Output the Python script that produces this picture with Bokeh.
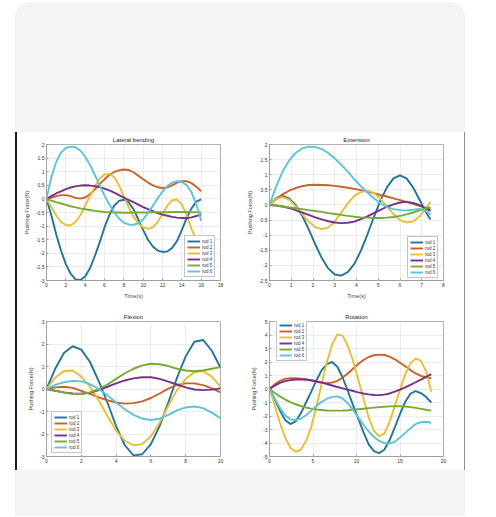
from bokeh.plotting import figure
from bokeh.models import Range1d, FixedTicker, PrintfTickFormatter, Div
from bokeh.layouts import row, column
from bokeh.embed import file_html
from bokeh.resources import INLINE

ROD_LABELS = ["rod 1", "rod 2", "rod 3", "rod 4", "rod 5", "rod 6"]
ROD_COLORS = ["#22749a", "#cc6128", "#e6bf35", "#74328a", "#7aaa36", "#5ac4dc"]

# ---------------- Lateral bending ----------------
LB_T = [0, 0.5, 1, 1.5, 2, 2.5, 3, 3.5, 4, 4.5, 5, 5.5, 6, 6.5, 7, 7.5, 8,
        8.5, 9, 9.5, 10, 10.5, 11, 11.5, 12, 12.5, 13, 13.5, 14, 14.5, 15, 15.5, 16]
LB_ROD1 = [0, -0.6, -1.3, -1.9, -2.4, -2.75, -2.96, -2.98, -2.85, -2.55, -2.1, -1.6, -1.05,
           -0.6, -0.25, -0.07, -0.03, -0.12, -0.38, -0.75, -1.15, -1.5, -1.75, -1.9, -1.95,
           -1.93, -1.8, -1.55, -1.15, -0.7, -0.35, -0.1, -0.02]
LB_ROD2 = [0, 0.05, 0.1, 0.14, 0.14, 0.1, 0.04, 0.01, 0.05, 0.17, 0.35, 0.55, 0.72, 0.88,
           0.99, 1.05, 1.08, 1.06, 0.98, 0.85, 0.72, 0.6, 0.5, 0.43, 0.4, 0.42, 0.5, 0.6,
           0.65, 0.65, 0.58, 0.45, 0.28]
LB_ROD3 = [0, -0.3, -0.6, -0.85, -0.96, -0.97, -0.85, -0.6, -0.25, 0.1, 0.45, 0.75, 0.9,
           0.92, 0.8, 0.5, 0.1, -0.3, -0.65, -0.9, -1.05, -1.1, -1.05, -0.85, -0.55, -0.25,
           -0.05, -0.02, -0.2, -0.6, -1.1, -1.5, -1.9]
LB_ROD4 = [0, 0.1, 0.2, 0.28, 0.36, 0.42, 0.46, 0.49, 0.5, 0.49, 0.47, 0.43, 0.38, 0.31,
           0.23, 0.14, 0.05, -0.04, -0.12, -0.21, -0.3, -0.38, -0.45, -0.52, -0.58, -0.62,
           -0.66, -0.69, -0.7, -0.7, -0.68, -0.63, -0.57]
LB_ROD5 = [0, -0.06, -0.12, -0.17, -0.22, -0.27, -0.31, -0.35, -0.38, -0.41, -0.44, -0.46,
           -0.48, -0.49, -0.5, -0.5, -0.51, -0.51, -0.5, -0.5, -0.5, -0.5, -0.49, -0.49,
           -0.49, -0.49, -0.48, -0.48, -0.48, -0.48, -0.49, -0.49, -0.5]
LB_ROD6 = [0, 0.8, 1.35, 1.7, 1.87, 1.92, 1.9, 1.78, 1.55, 1.25, 0.88, 0.5, 0.12, -0.2,
           -0.5, -0.72, -0.87, -0.94, -0.95, -0.9, -0.75, -0.52, -0.25, 0.02, 0.27, 0.47,
           0.6, 0.65, 0.63, 0.5, 0.25, -0.2, -0.8]
LB_XTICKS = [0, 2, 4, 6, 8, 10, 12, 14, 16, 18]
LB_YTICKS = [-3, -2.5, -2, -1.5, -1, -0.5, 0, 0.5, 1, 1.5, 2]

# ---------------- Extension ----------------
EX_T = [0, 0.3, 0.6, 0.9, 1.2, 1.5, 1.8, 2.1, 2.4, 2.7, 3.0, 3.3, 3.6, 3.9, 4.2, 4.5,
        4.8, 5.1, 5.4, 5.7, 6.0, 6.3, 6.6, 6.9, 7.2, 7.4]
EX_ROD1 = [0, 0.22, 0.3, 0.22, 0.0, -0.35, -0.8, -1.3, -1.75, -2.1, -2.3, -2.34, -2.22,
           -1.95, -1.52, -0.98, -0.4, 0.15, 0.58, 0.88, 0.98, 0.88, 0.58, 0.17, -0.25, -0.48]
EX_ROD2 = [0, 0.19, 0.35, 0.47, 0.56, 0.62, 0.66, 0.67, 0.66, 0.65, 0.63, 0.6, 0.57, 0.53,
           0.49, 0.44, 0.39, 0.33, 0.28, 0.22, 0.16, 0.1, 0.04, -0.03, -0.1, -0.15]
EX_ROD3 = [0, 0.2, 0.26, 0.18, -0.05, -0.3, -0.55, -0.73, -0.8, -0.75, -0.55, -0.25, 0.05,
           0.3, 0.43, 0.47, 0.4, 0.2, -0.05, -0.3, -0.5, -0.58, -0.55, -0.38, -0.1, 0.1]
EX_ROD4 = [0, -0.02, -0.05, -0.1, -0.17, -0.25, -0.33, -0.41, -0.48, -0.54, -0.58, -0.6,
           -0.59, -0.55, -0.47, -0.38, -0.27, -0.16, -0.06, 0.02, 0.08, 0.1, 0.07, -0.01,
           -0.12, -0.2]
EX_ROD5 = [0, -0.02, -0.05, -0.08, -0.11, -0.14, -0.17, -0.2, -0.23, -0.27, -0.3, -0.33,
           -0.36, -0.39, -0.41, -0.42, -0.43, -0.43, -0.42, -0.4, -0.36, -0.31, -0.25,
           -0.18, -0.11, -0.07]
EX_ROD6 = [0, 0.6, 1.1, 1.47, 1.72, 1.87, 1.93, 1.92, 1.85, 1.72, 1.54, 1.33, 1.1, 0.85,
           0.62, 0.41, 0.22, 0.05, -0.07, -0.14, -0.17, -0.18, -0.16, -0.13, -0.2, -0.32]
EX_XTICKS = [0, 1, 2, 3, 4, 5, 6, 7, 8]
EX_YTICKS = [-2.5, -2, -1.5, -1, -0.5, 0, 0.5, 1, 1.5, 2]

# ---------------- Flexion ----------------
FL_T = [0, 0.5, 1, 1.5, 2, 2.5, 3, 3.5, 4, 4.5, 5, 5.5, 6, 6.5, 7, 7.5, 8, 8.5, 9, 9.5, 10]
FL_ROD1 = [0, 0.9, 1.6, 1.9, 1.75, 1.2, 0.35, -0.6, -1.65, -2.5, -2.95, -2.9, -2.45, -1.65,
           -0.6, 0.5, 1.45, 2.1, 2.18, 1.7, 0.95]
FL_ROD2 = [0, 0.07, 0.1, 0.05, -0.08, -0.22, -0.37, -0.5, -0.6, -0.65, -0.63, -0.55, -0.4,
           -0.2, 0.02, 0.18, 0.25, 0.25, 0.17, 0.03, -0.15]
FL_ROD3 = [0, 0.5, 0.8, 0.82, 0.55, 0.1, -0.5, -1.2, -1.85, -2.3, -2.5, -2.45, -2.1, -1.5,
           -0.75, -0.05, 0.45, 0.75, 0.8, 0.55, 0.1]
FL_ROD4 = [0, -0.08, -0.15, -0.2, -0.21, -0.17, -0.05, 0.1, 0.25, 0.38, 0.47, 0.52, 0.52,
           0.45, 0.33, 0.2, 0.07, -0.02, -0.05, -0.03, 0.03]
FL_ROD5 = [0, -0.08, -0.16, -0.21, -0.22, -0.15, 0.0, 0.2, 0.45, 0.7, 0.9, 1.05, 1.12, 1.1,
           1.02, 0.9, 0.82, 0.79, 0.82, 0.9, 0.97]
FL_ROD6 = [0, 0.18, 0.3, 0.36, 0.34, 0.22, 0.0, -0.28, -0.6, -0.9, -1.15, -1.32, -1.38,
           -1.32, -1.15, -0.95, -0.82, -0.78, -0.85, -1.05, -1.3]
FL_XTICKS = [0, 2, 4, 6, 8, 10]
FL_YTICKS = [-3, -2, -1, 0, 1, 2, 3]

# ---------------- Rotation ----------------
RO_T = [0, 0.6, 1.2, 1.8, 2.4, 3.0, 3.6, 4.2, 4.8, 5.4, 6.0, 6.6, 7.2, 7.8, 8.4, 9.0, 9.6,
        10.2, 10.8, 11.4, 12.0, 12.6, 13.2, 13.8, 14.4, 15.0, 15.6, 16.2, 16.8, 17.4, 18.0, 18.6]
RO_ROD1 = [0, -0.75, -1.6, -2.3, -2.6, -2.4, -1.8, -1.0, -0.2, 0.65, 1.4, 1.85, 2.0, 1.65,
           0.85, -0.15, -1.2, -2.2, -3.2, -4.1, -4.6, -4.75, -4.5, -3.8, -2.85, -1.85,
           -0.95, -0.35, -0.15, -0.3, -0.6, -1.0]
RO_ROD2 = [0, 0.35, 0.6, 0.75, 0.8, 0.8, 0.76, 0.7, 0.62, 0.53, 0.46, 0.43, 0.47, 0.6,
           0.85, 1.15, 1.5, 1.85, 2.15, 2.37, 2.5, 2.55, 2.52, 2.4, 2.2, 1.95, 1.68, 1.4,
           1.15, 0.97, 0.86, 0.8]
RO_ROD3 = [0, -1.2, -2.5, -3.6, -4.35, -4.65, -4.5, -3.85, -2.8, -1.3, 0.4, 2.0, 3.3, 4.05,
           3.95, 3.2, 2.1, 0.7, -0.7, -2.1, -3.1, -3.5, -3.3, -2.45, -1.25, -0.05, 1.1, 1.9,
           2.25, 2.1, 1.3, -0.2]
RO_ROD4 = [0, 0.25, 0.45, 0.58, 0.66, 0.7, 0.72, 0.7, 0.65, 0.57, 0.48, 0.37, 0.26, 0.15,
           0.05, -0.05, -0.15, -0.25, -0.33, -0.4, -0.44, -0.45, -0.42, -0.33, -0.2, -0.05,
           0.12, 0.3, 0.5, 0.7, 0.9, 1.1]
RO_ROD5 = [0, -0.3, -0.55, -0.78, -0.97, -1.13, -1.26, -1.37, -1.45, -1.52, -1.56, -1.59,
           -1.6, -1.6, -1.59, -1.57, -1.54, -1.5, -1.46, -1.42, -1.38, -1.34, -1.31, -1.29,
           -1.28, -1.28, -1.3, -1.34, -1.4, -1.47, -1.54, -1.6]
RO_ROD6 = [0, -0.7, -1.4, -1.95, -2.25, -2.3, -2.2, -1.95, -1.6, -1.25, -0.95, -0.72, -0.58,
           -0.55, -0.7, -1.05, -1.55, -2.1, -2.65, -3.15, -3.55, -3.85, -4.0, -4.05, -3.9,
           -3.6, -3.25, -2.9, -2.6, -2.45, -2.43, -2.5]
RO_XTICKS = [0, 5, 10, 15, 20]
RO_YTICKS = [-5, -4, -3, -2, -1, 0, 1, 2, 3, 4, 5]

FONT = "Liberation Sans"
FRAME_COL = "#9c9c9c"


def panel(title, t, rods, xr, yr, xticks, yticks, legend_xy, width, height,
          b_left, b_right, b_top, b_bottom):
    p = figure(width=width, height=height, output_backend="svg", toolbar_location=None,
               x_range=Range1d(*xr), y_range=Range1d(*yr),
               min_border_left=b_left, min_border_right=b_right,
               min_border_top=b_top, min_border_bottom=b_bottom,
               background_fill_color="white", border_fill_color="white",
               outline_line_color=FRAME_COL, outline_line_width=0.8)
    p.title.text = title
    p.title.align = "center"
    p.title.text_font = FONT
    p.title.text_font_size = "6px"
    p.title.text_font_style = "normal"
    p.title.text_color = "#222222"
    p.title.standoff = 3
    p.title.offset = 0
    for ax, ticks in ((p.xaxis[0], xticks), (p.yaxis[0], yticks)):
        ax.ticker = FixedTicker(ticks=ticks)
        ax.formatter = PrintfTickFormatter(format="%g")
        ax.major_label_text_font = FONT
        ax.major_label_text_font_size = "5px"
        ax.major_label_text_color = "#333333"
        ax.axis_line_color = FRAME_COL
        ax.axis_line_width = 0.8
        ax.major_tick_line_color = FRAME_COL
        ax.major_tick_in = 2
        ax.major_tick_out = 0
        ax.minor_tick_line_color = None
        ax.major_label_standoff = 2
        ax.axis_label_text_font = FONT
        ax.axis_label_text_font_size = "5.5px"
        ax.axis_label_text_font_style = "normal"
        ax.axis_label_text_color = "#444444"
        ax.axis_label_standoff = 3
    p.xaxis.axis_label = "Time(s)"
    p.yaxis.axis_label = "Pushing Force(N)"
    p.grid.grid_line_color = "#e4e4e4"
    p.grid.grid_line_width = 0.7
    for y, lab, col in zip(rods, ROD_LABELS, ROD_COLORS):
        p.line(t, y, line_color=col, line_width=1.9, legend_label=lab)
    lg = p.legend[0]
    lg.location = legend_xy
    lg.margin = 0
    lg.padding = 2
    lg.spacing = 0
    lg.label_height = 6
    lg.label_width = 10
    lg.glyph_height = 6
    lg.glyph_width = 13
    lg.label_standoff = 2
    lg.label_text_font = FONT
    lg.label_text_font_size = "4.5px"
    lg.label_text_color = "#333333"
    lg.border_line_color = "#8a8a8a"
    lg.border_line_width = 0.7
    lg.background_fill_color = "white"
    lg.background_fill_alpha = 1
    return p


f1 = panel("Lateral bending", LB_T, [LB_ROD1, LB_ROD2, LB_ROD3, LB_ROD4, LB_ROD5, LB_ROD6],
           (0, 18), (-3, 2), LB_XTICKS, LB_YTICKS, (138, 3), 223, 169, 29, 20, 12, 20)
f2 = panel("Extension", EX_T, [EX_ROD1, EX_ROD2, EX_ROD3, EX_ROD4, EX_ROD5, EX_ROD6],
           (0, 8), (-2.5, 2), EX_XTICKS, EX_YTICKS, (138, 2), 224, 169, 29, 21, 12, 20)
f3 = panel("Flexion", FL_T, [FL_ROD1, FL_ROD2, FL_ROD3, FL_ROD4, FL_ROD5, FL_ROD6],
           (0, 10), (-3, 3), FL_XTICKS, FL_YTICKS, (5, 3), 223, 176, 29, 20, 20, 20)
f4 = panel("Rotation", RO_T, [RO_ROD1, RO_ROD2, RO_ROD3, RO_ROD4, RO_ROD5, RO_ROD6],
           (0, 20), (-5, 5), RO_XTICKS, RO_YTICKS, (7, 95), 224, 176, 29, 21, 20, 20)

top_card = Div(text="", width=450, height=130, margin=(2, 0, 0, 15),
               styles={"background-color": "#f4f4f4", "border-radius": "16px 16px 0 0"})
left_edge = Div(text="", width=2, height=338, margin=(0, 0, 0, 15),
                styles={"background-color": "#1c1c1c"})
right_edge = Div(text="", width=1, height=338, margin=0,
                 styles={"background-color": "#8e8e8e"})
grid = column(row(f1, f2), row(f3, f4))
middle = row(left_edge, grid, right_edge)
bottom_card = Div(text="", width=450, height=46, margin=(-7, 0, 0, 15),
                  styles={"background-color": "#f4f4f4", "position": "relative",
                          "z-index": "5"})
page = column(top_card, middle, bottom_card)

open("out.html", "w").write(file_html(page, INLINE))
